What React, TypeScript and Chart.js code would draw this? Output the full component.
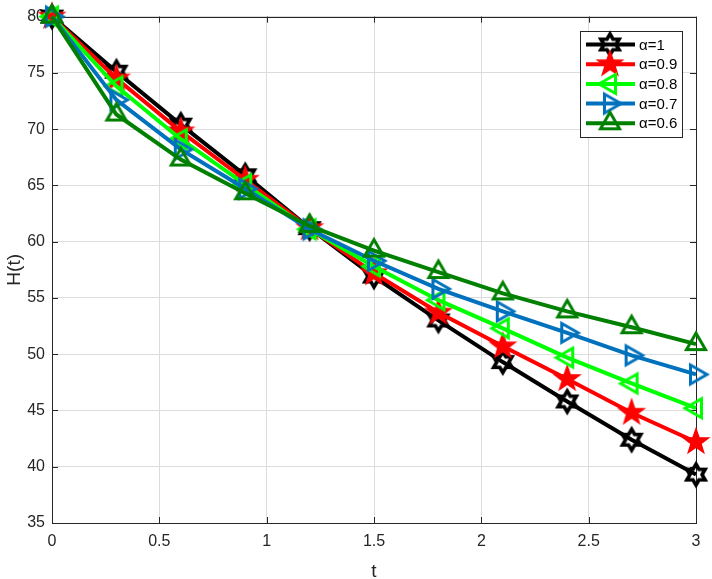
import React, { useEffect, useRef } from "react";
import { Chart, registerables } from "chart.js";

Chart.register(...registerables);

// ---- data ----
const tValues = [0, 0.3, 0.6, 0.9, 1.2, 1.5, 1.8, 2.1, 2.4, 2.7, 3.0];
const alpha10 = [80, 75.1, 70.4, 65.9, 61.2, 56.9, 53.0, 49.3, 45.8, 42.4, 39.3];
const alpha09 = [80, 74.5, 69.8, 65.5, 61.2, 57.2, 53.7, 50.7, 47.8, 44.8, 42.2];
const alpha08 = [80, 73.8, 69.1, 65.1, 61.1, 57.8, 54.8, 52.3, 49.7, 47.4, 45.2];
const alpha07 = [80, 72.6, 68.2, 64.7, 61.1, 58.3, 55.8, 53.8, 51.9, 49.9, 48.2];
const alpha06 = [80, 71.3, 67.3, 64.3, 61.4, 59.2, 57.3, 55.4, 53.8, 52.4, 50.9];
const seriesLabels = ["α=1", "α=0.9", "α=0.8", "α=0.7", "α=0.6"];
const seriesColors = ["#000000", "#ff0000", "#00ff00", "#0072bd", "#008000"];
const seriesMarkers = ["hexagram", "pentagram", "triLeft", "triRight", "triUp"];
const xTitle = "t";
const yTitle = "H(t)";
const xMin = 0, xMax = 3, xStep = 0.5;
const yMin = 35, yMax = 80, yStep = 5;

const FONT = "'Liberation Sans', Arial, Helvetica, sans-serif";
const AXIS_COLOR = "#262626";

function makeMarker(kind: string, color: string): HTMLCanvasElement {
  const c = document.createElement("canvas");
  c.width = 36;
  c.height = 36;
  const ctx = c.getContext("2d")!;
  ctx.translate(18, 18);
  ctx.strokeStyle = color;
  ctx.fillStyle = color;
  ctx.lineJoin = "miter";
  ctx.beginPath();
  if (kind === "hexagram") {
    const R = 10.5, r = R / Math.sqrt(3);
    for (let k = 0; k < 12; k++) {
      const a = (k * Math.PI) / 6;
      const rr = k % 2 === 0 ? R : r;
      const x = Math.sin(a) * rr, y = -Math.cos(a) * rr;
      if (k === 0) ctx.moveTo(x, y); else ctx.lineTo(x, y);
    }
    ctx.closePath();
    ctx.lineWidth = 3.6;
    ctx.stroke();
  } else if (kind === "pentagram") {
    const R = 13, r = R * 0.4;
    for (let k = 0; k < 10; k++) {
      const a = (k * Math.PI) / 5;
      const rr = k % 2 === 0 ? R : r;
      const x = Math.sin(a) * rr, y = -Math.cos(a) * rr;
      if (k === 0) ctx.moveTo(x, y); else ctx.lineTo(x, y);
    }
    ctx.closePath();
    ctx.fill();
    ctx.lineWidth = 1.5;
    ctx.stroke();
  } else {
    const rot = kind === "triLeft" ? -Math.PI / 2 : kind === "triRight" ? Math.PI / 2 : 0;
    const R = 11;
    for (let k = 0; k < 3; k++) {
      const a = rot + (k * 2 * Math.PI) / 3;
      const x = Math.sin(a) * R, y = -Math.cos(a) * R;
      if (k === 0) ctx.moveTo(x, y); else ctx.lineTo(x, y);
    }
    ctx.closePath();
    ctx.lineWidth = 3;
    ctx.stroke();
  }
  return c;
}

export default function App() {
  const ref = useRef<HTMLCanvasElement | null>(null);

  useEffect(() => {
    if (!ref.current) return;
    const series = [alpha10, alpha09, alpha08, alpha07, alpha06];
    const markers = seriesMarkers.map((m, i) => makeMarker(m, seriesColors[i]));

    const datasets = series.map((vals, i) => ({
      label: seriesLabels[i],
      data: vals.map((v, j) => ({ x: tValues[j], y: v })),
      borderColor: seriesColors[i],
      backgroundColor: seriesColors[i],
      borderWidth: 4,
      pointStyle: markers[i] as any,
      pointRadius: 12,
      pointHoverRadius: 12,
      tension: 0,
      clip: false as any,
      order: series.length - i,
    }));

    const boxPlugin = {
      id: "boxTicks",
      beforeDatasetsDraw(chart: any) {
        const { ctx, chartArea: a, scales } = chart;
        ctx.save();
        ctx.strokeStyle = AXIS_COLOR;
        ctx.lineWidth = 1;
        const L = 6;
        ctx.beginPath();
        for (let v = xMin; v <= xMax + 1e-9; v += xStep) {
          const px = Math.round(scales.x.getPixelForValue(v)) + 0.5;
          ctx.moveTo(px, a.bottom); ctx.lineTo(px, a.bottom - L);
          ctx.moveTo(px, a.top); ctx.lineTo(px, a.top + L);
        }
        for (let v = yMin; v <= yMax + 1e-9; v += yStep) {
          const py = Math.round(scales.y.getPixelForValue(v)) + 0.5;
          ctx.moveTo(a.left, py); ctx.lineTo(a.left + L, py);
          ctx.moveTo(a.right, py); ctx.lineTo(a.right - L, py);
        }
        ctx.stroke();
        ctx.strokeRect(Math.round(a.left) + 0.5, Math.round(a.top) + 0.5,
          Math.round(a.right - a.left), Math.round(a.bottom - a.top));
        ctx.restore();
      },
    };

    const legendPlugin = {
      id: "customLegend",
      afterDraw(chart: any) {
        const { ctx, chartArea: a } = chart;
        const w = 102, h = 106;
        const bx = Math.round(a.right) - 14 - w;
        const by = Math.round(a.top) + 14;
        ctx.save();
        ctx.fillStyle = "#ffffff";
        ctx.fillRect(bx, by, w, h);
        ctx.strokeStyle = AXIS_COLOR;
        ctx.lineWidth = 1;
        ctx.strokeRect(bx + 0.5, by + 0.5, w, h);
        ctx.font = `15px ${FONT}`;
        ctx.textBaseline = "middle";
        ctx.textAlign = "left";
        seriesLabels.forEach((lab, i) => {
          const y = by + 13.5 + i * 19.7;
          ctx.strokeStyle = seriesColors[i];
          ctx.lineWidth = 4;
          ctx.beginPath();
          ctx.moveTo(bx + 6, y);
          ctx.lineTo(bx + 55, y);
          ctx.stroke();
          const m = markers[i];
          ctx.drawImage(m, bx + 30 - m.width / 2, y - m.height / 2);
          ctx.fillStyle = "#000000";
          ctx.fillText(lab, bx + 59, y + 1);
        });
        ctx.restore();
      },
    };

    const chart = new Chart(ref.current, {
      type: "line",
      data: { datasets: datasets as any },
      plugins: [boxPlugin, legendPlugin],
      options: {
        responsive: false,
        animation: false,
        events: [],
        layout: { padding: { left: 0, top: 15, right: 15, bottom: 0 } },
        plugins: { legend: { display: false }, tooltip: { enabled: false } },
        scales: {
          x: {
            type: "linear",
            min: xMin,
            max: xMax,
            ticks: {
              stepSize: xStep,
              color: AXIS_COLOR,
              font: { family: FONT, size: 16 },
              padding: 9,
              maxRotation: 0,
              callback: (v: any) => String(Math.round(Number(v) * 10) / 10),
            },
            grid: { color: "#dcdcdc", lineWidth: 1, drawTicks: false },
            border: { display: false },
            title: {
              display: true,
              text: xTitle,
              color: AXIS_COLOR,
              font: { family: FONT, size: 19 },
              padding: { top: 0, bottom: -4 },
            },
            afterFit: (s: any) => { s.height = 56; },
          },
          y: {
            type: "linear",
            min: yMin,
            max: yMax,
            ticks: {
              stepSize: yStep,
              color: AXIS_COLOR,
              font: { family: FONT, size: 16 },
              padding: 7,
            },
            grid: { color: "#dcdcdc", lineWidth: 1, drawTicks: false },
            border: { display: false },
            title: {
              display: true,
              text: yTitle,
              color: AXIS_COLOR,
              font: { family: FONT, size: 19 },
              padding: { top: 3, bottom: 0 },
            },
            afterFit: (s: any) => { s.width = 52; },
          },
        },
      },
    });
    return () => chart.destroy();
  }, []);

  return (
    <div style={{ position: "fixed", left: 0, top: 0, width: 712, height: 579, background: "#fff" }}>
      <canvas ref={ref} width={712} height={579} style={{ width: 712, height: 579, display: "block" }} />
    </div>
  );
}
